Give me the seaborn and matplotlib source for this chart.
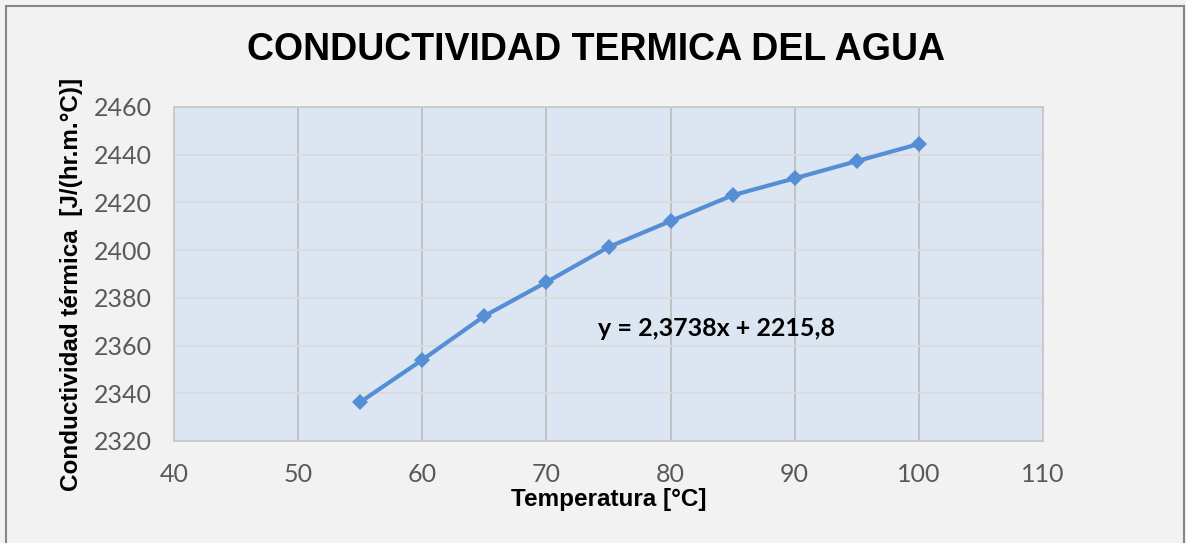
import seaborn as sns
import matplotlib.pyplot as plt
import pandas as pd
import numpy as np
from matplotlib.patches import Rectangle

# data
temperatura = [55, 60, 65, 70, 75, 80, 85, 90, 95, 100]
conductividad = [2336.3, 2354.0, 2372.4, 2386.6, 2401.3, 2412.2, 2423.0, 2430.1, 2437.3, 2444.5]
x_ticks = [40, 50, 60, 70, 80, 90, 100, 110]
y_ticks = [2320, 2340, 2360, 2380, 2400, 2420, 2440, 2460]
ecuacion = "y = 2,3738x + 2215,8"

df = pd.DataFrame({'T': temperatura, 'k': conductividad})

sns.set_style('white')
plt.rcParams['font.family'] = ['Lato', 'DejaVu Sans']
arial = ['Liberation Sans', 'DejaVu Sans']

fig = plt.figure(figsize=(11.86, 5.43), dpi=100, facecolor='#F2F2F2')
ax = fig.add_axes([174/1186, 1-441/543, (1043-174)/1186, (441-107)/543])
ax.set_facecolor('#DCE6F2')

# outer chart border
fig.patches.append(Rectangle((6/1186, -0.02), (1184-6)/1186, 1-6/543+0.02,
                             transform=fig.transFigure, fill=False,
                             edgecolor='#868686', lw=1.5))

sns.lineplot(data=df, x='T', y='k', ax=ax, color='#558ED5', lw=3,
             marker='D', markersize=8, markeredgewidth=0, zorder=5)

ax.set_xlim(40, 110)
ax.set_ylim(2320, 2460)
ax.set_xticks(x_ticks)
ax.set_yticks(y_ticks)
ax.tick_params(length=0, labelsize=18, labelcolor='#595959', pad=16)

for xv in x_ticks:
    ax.axvline(xv, color='#BFBFBF', lw=1.3, zorder=1)
for yv in y_ticks:
    ax.axhline(yv, color='#D9D9D9', lw=1.2, zorder=1)
for s in ax.spines.values():
    s.set_color('#C8C8C8')
    s.set_linewidth(1.3)

ax.set_xlabel('Temperatura [°C]', fontsize=17.5, fontweight='bold', labelpad=1,
              color='black', family=arial)
ax.set_ylabel('Conductividad térmica  [J/(hr.m.°C)]', fontsize=17.5,
              fontweight='bold', labelpad=8, color='black', family=arial)
ax.yaxis.label.set_y(0.468)

ax.text(0.488, 0.338, ecuacion, transform=ax.transAxes, fontsize=18,
        fontweight='bold', ha='left', va='center', color='black')

fig.text(596/1186, 1-50/543, 'CONDUCTIVIDAD TERMICA DEL AGUA',
         fontsize=27, fontweight='bold', ha='center', va='center',
         color='black', family=arial)

fig.savefig('out.png', dpi=100, facecolor=fig.get_facecolor())
